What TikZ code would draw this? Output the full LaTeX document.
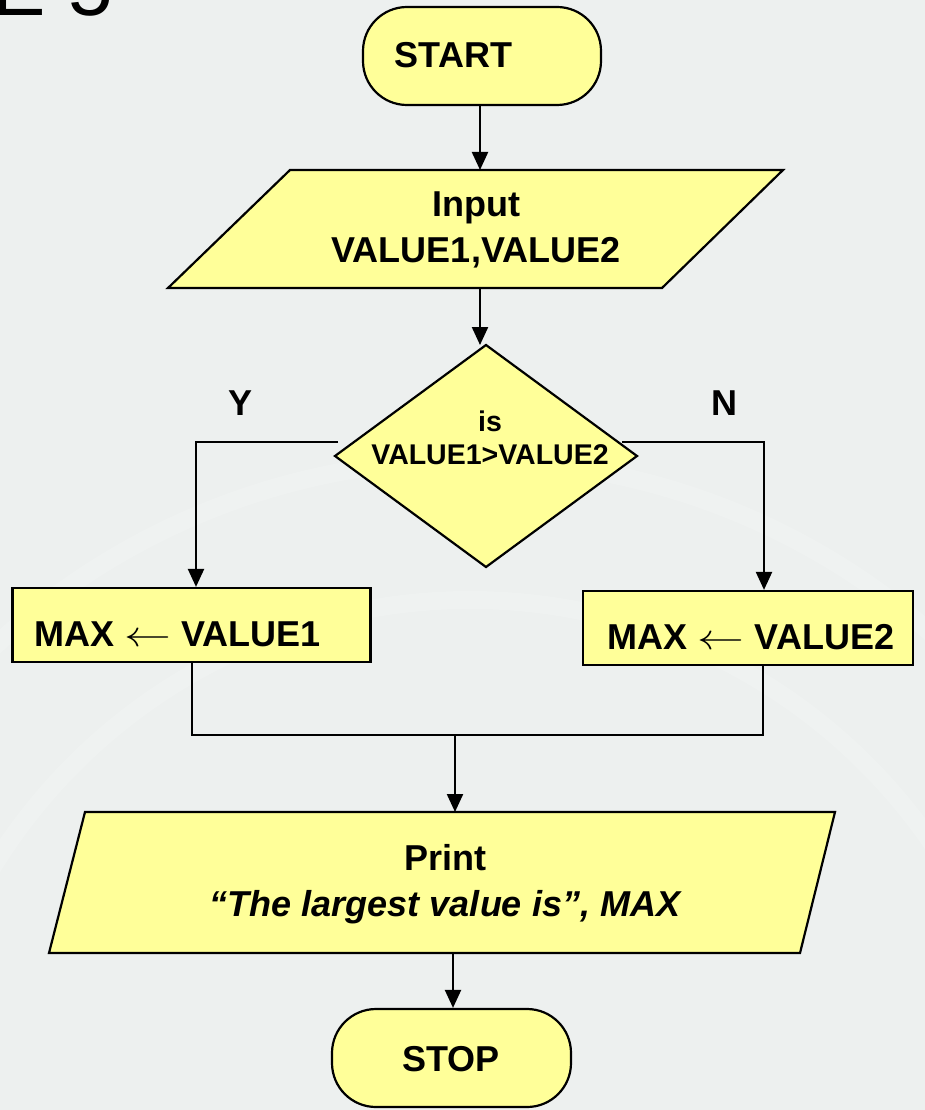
\RequirePackage{fix-cm}
\documentclass[tikz,border=0pt]{standalone}
\usepackage{fontspec}
\setmainfont{Liberation Sans}
\usetikzlibrary{arrows.meta}
\definecolor{bgcol}{RGB}{237,240,239}
\definecolor{boxfill}{RGB}{255,255,153}
\begin{document}
\begin{tikzpicture}[x=1pt,y=-1pt,
  shp/.style={draw=black,line width=2.2pt,fill=boxfill},
  txt/.style={font=\bfseries\fontsize{36}{46}\selectfont,align=center,inner sep=0pt},
  smalltxt/.style={font=\bfseries\fontsize{28.5}{33}\selectfont,align=center,inner sep=0pt},
  ln/.style={line width=2.2pt},
  arr/.style={line width=2.2pt,-{Triangle[length=18pt,width=16pt]}}]
\useasboundingbox (0,0) rectangle (925,1110);
\clip (0,0) rectangle (925,1110);
\fill[bgcol] (0,0) rectangle (925,1110);
% faint background arcs
\begin{scope}[white,opacity=0.15,line width=18pt]
  \draw (470,1160) circle[radius=560pt];
  \draw (470,1160) circle[radius=700pt];
\end{scope}
% cropped title fragment
\node[anchor=base east,inner sep=0pt,font=\fontsize{80}{90}\selectfont] (title) at (113,16) {E 5};

% START
\node[shp,rectangle,rounded corners=44pt,minimum width=238pt,minimum height=98pt,inner sep=0pt] (start) at (482,56) {};
\node[txt,anchor=base] (starttxt) at (453.5,68) {START};

% Input parallelogram
\coordinate (inTL) at (290,170);
\coordinate (inTR) at (783,170);
\coordinate (inBR) at (662,288);
\coordinate (inBL) at (168,288);
\draw[shp] (inTL) -- (inTR) -- (inBR) -- (inBL) -- cycle;
\node[txt] (input) at (476,229.5) {Input\\VALUE1,VALUE2};
\coordinate (inTop) at (480,170);
\coordinate (inBot) at (480,288);

% Decision diamond
\coordinate (dT) at (486,345);
\coordinate (dR) at (637,456);
\coordinate (dB) at (486,567);
\coordinate (dL) at (335,456);
\draw[shp] (dT) -- (dR) -- (dB) -- (dL) -- cycle;
\node[smalltxt] (cond) at (490,438) {is\\VALUE1>VALUE2};
\coordinate (dTop) at (480,345);
\coordinate (yEnd) at (338,442);
\coordinate (nEnd) at (622,442);

% Y / N labels
\node[txt,anchor=base] (ylab) at (241,415) {Y};
\node[txt,anchor=base] (nlab) at (724.5,415) {N};

% assignment boxes
\node[shp,rectangle,minimum width=358pt,minimum height=74pt,inner sep=0pt] (max1) at (191.5,625) {};
\node[txt,anchor=base] (max1txt) at (177.5,646) {MAX \scalebox{1.3}[1]{$\leftarrow$} VALUE1};
\node[shp,rectangle,minimum width=330pt,minimum height=74pt,inner sep=0pt] (max2) at (748,628) {};
\node[txt,anchor=base] (max2txt) at (751,649) {MAX \scalebox{1.3}[1]{$\leftarrow$} VALUE2};

% Print parallelogram
\coordinate (pTL) at (85,812);
\coordinate (pTR) at (835,812);
\coordinate (pBR) at (800,953);
\coordinate (pBL) at (49,953);
\draw[shp] (pTL) -- (pTR) -- (pBR) -- (pBL) -- cycle;
\node[txt] (print) at (445,884.5) {Print\\\itshape \char"201C The largest value is\char"201D, MAX};
\coordinate (pTop) at (455,812);
\coordinate (pBot) at (453,953);

% STOP
\node[shp,rectangle,rounded corners=44pt,minimum width=239pt,minimum height=98pt,inner sep=0pt] (stop) at (451.5,1058) {};
\node[txt,anchor=base] (stoptxt) at (451,1071) {STOP};

% junction
\coordinate (jL) at (192,735);
\coordinate (jR) at (763,735);
\coordinate (jM) at (455,735);

% connectors
\draw[arr] (start.south -| inTop) -- (inTop);
\draw[arr] (inBot) -- (dTop);
\draw[arr] (yEnd) -| (max1.north -| 196,0);
\draw[arr] (nEnd) -| (max2.north -| 764,0);
\draw[ln] (max1.south -| jL) -- (jL) -- (jR) -- (max2.south -| jR);
\draw[arr] (jM) -- (pTop);
\draw[arr] (pBot) -- (stop.north -| pBot);
\end{tikzpicture}
\end{document}
